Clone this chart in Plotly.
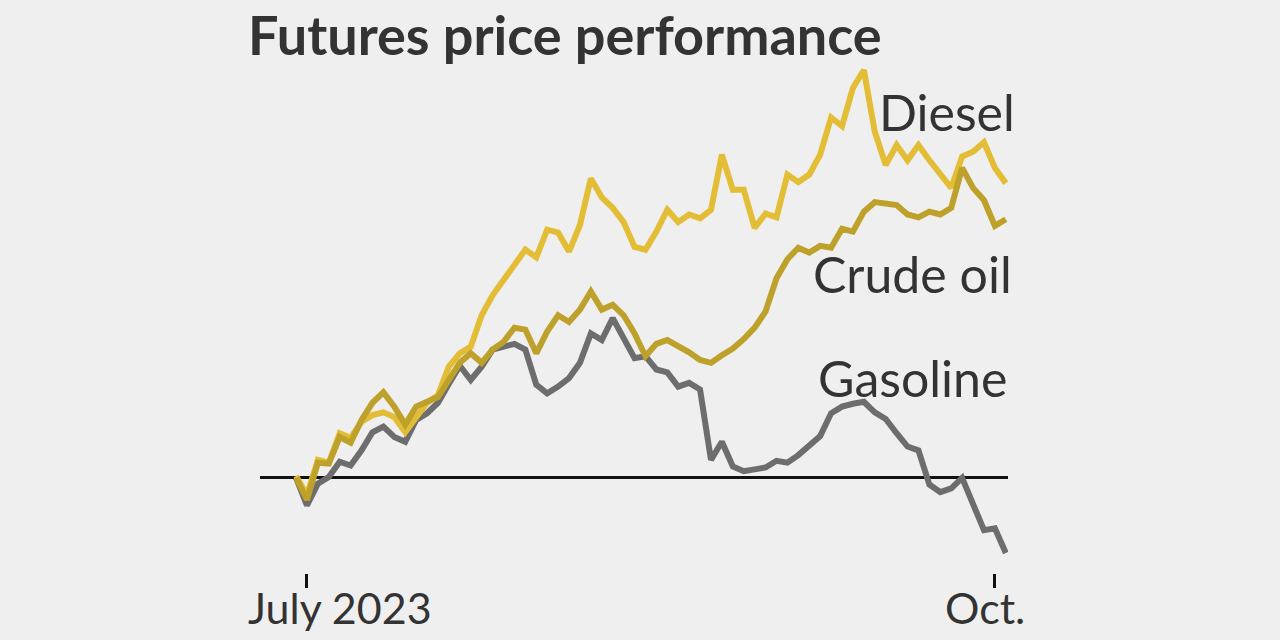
import pandas as pd
import plotly.graph_objects as go

# Trading days, Jun 30 2023 – Oct 3 2023
dates = [d.strftime("%Y-%m-%d") for d in pd.bdate_range("2023-06-30", "2023-10-03")
         if d.strftime("%Y-%m-%d") not in ("2023-07-04", "2023-09-04")]

# % change since Jun 30
diesel = [0.2, -1.8, 1.9, 1.6, 4.7, 4.2, 5.9, 6.6, 6.9, 6.4, 4.8, 6.4, 7.9, 8.7, 11.7, 13.1,
          13.8, 17.1, 19.2, 20.8, 22.4, 24.0, 23.2, 26.1, 25.8, 23.8, 26.6, 31.5, 29.5, 28.4,
          26.9, 24.3, 24.0, 25.9, 28.2, 26.9, 27.7, 27.3, 28.2, 34.0, 30.3, 30.3, 26.3, 27.8,
          27.4, 31.9, 31.1, 31.9, 34.0, 37.9, 37.0, 41.0, 42.9, 36.4, 32.9, 35.0, 33.4, 35.0,
          33.4, 31.9, 30.5, 33.8, 34.3, 35.3, 32.6, 31.0]
crude = [0.0, -2.3, 1.6, 1.5, 4.3, 3.7, 6.1, 7.9, 9.0, 7.5, 5.6, 7.5, 8.0, 8.5, 10.3, 12.1,
         13.1, 12.1, 13.5, 14.3, 15.8, 15.6, 13.1, 15.4, 17.1, 16.4, 17.7, 19.6, 17.7, 18.2,
         17.1, 15.2, 12.8, 14.1, 14.5, 13.9, 13.2, 12.4, 12.1, 12.9, 13.6, 14.6, 15.8, 17.5,
         21.0, 23.0, 24.2, 23.7, 24.4, 24.2, 26.2, 25.9, 28.0, 29.0, 28.9, 28.7, 27.7, 27.4,
         28.0, 27.7, 28.4, 32.6, 30.5, 29.2, 26.5, 27.2]
gasoline = [0.0, -2.9, -0.6, 0.1, 1.7, 1.3, 2.9, 4.8, 5.4, 4.3, 3.8, 6.1, 6.8, 7.9, 9.9, 11.8,
            10.3, 11.7, 13.5, 13.8, 14.1, 13.5, 9.8, 8.9, 9.6, 10.5, 12.1, 15.2, 14.5, 16.8,
            14.7, 12.6, 12.8, 11.4, 11.1, 9.6, 10.0, 9.3, 1.9, 3.8, 1.2, 0.7, 0.9, 1.1,
            1.8, 1.6, 2.4, 3.4, 4.4, 6.8, 7.5, 7.8, 8.0, 6.9, 6.2, 4.7, 3.3, 2.9,
            -0.7, -1.5, -1.1, 0.0, -2.8, -5.5, -5.3, -7.9]

tick_dates = [dates[1], dates[64]]
tick_labels = ["July 2023", "Oct."]

BG = "#efefef"
TXT = "#333333"
FONT = "Lato"

# layout geometry (pixels)
L, R, T, B = 260, 1008, 50, 573
W, H = 1280, 640
XR = [-3.30, 65.2]
YR = [-10, 45]


def px_x(px):
    return (px - L) / (R - L)


def px_y(py):
    return (B - py) / (B - T)


fig = go.Figure()
fig.add_trace(go.Scatter(x=dates, y=gasoline, mode="lines", name="Gasoline",
                         line=dict(color="#6d6d6d", width=6)))
fig.add_trace(go.Scatter(x=dates, y=diesel, mode="lines", name="Diesel",
                         line=dict(color="#e2bd35", width=6)))
fig.add_trace(go.Scatter(x=dates, y=crude, mode="lines", name="Crude oil",
                         line=dict(color="#bea12b", width=6)))

annos = [
    dict(text="<b>Futures price performance</b>", x=px_x(246), y=px_y(34), xanchor="left",
         yanchor="middle", height=60, valign="middle",
         font=dict(size=54, color=TXT, family=FONT)),
    dict(text="Diesel", x=px_x(1017), y=px_y(112), xanchor="right", yanchor="middle",
         font=dict(size=50, color=TXT, family=FONT)),
    dict(text="Crude oil", x=px_x(1014), y=px_y(274), xanchor="right", yanchor="middle",
         font=dict(size=50, color=TXT, family=FONT)),
    dict(text="Gasoline", x=px_x(1009), y=px_y(378), xanchor="right", yanchor="middle",
         font=dict(size=50, color=TXT, family=FONT)),
    dict(text=tick_labels[0], x=px_x(246), y=px_y(607), xanchor="left", yanchor="middle",
         font=dict(size=43, color=TXT, family=FONT)),
    dict(text=tick_labels[1], x=px_x(1027), y=px_y(607), xanchor="right", yanchor="middle",
         font=dict(size=43, color=TXT, family=FONT)),
]
for a in annos:
    a.update(xref="paper", yref="paper", showarrow=False)

fig.update_layout(
    width=W, height=H,
    margin=dict(l=L, r=W - R, t=T, b=H - B, pad=0),
    paper_bgcolor=BG, plot_bgcolor=BG,
    showlegend=False,
    annotations=annos,
    xaxis=dict(type="category", range=XR, showgrid=False, zeroline=False, showline=False,
               tickmode="array", tickvals=tick_dates, ticktext=["", ""],
               showticklabels=False, ticks="outside", ticklen=14, tickwidth=3,
               tickcolor="#111111", fixedrange=True),
    yaxis=dict(range=YR, showgrid=False, showticklabels=False, zeroline=True,
               zerolinecolor="#111111", zerolinewidth=3, showline=False, fixedrange=True),
)

fig.write_html(
    "out.html",
    config={"displayModeBar": False, "staticPlot": True},
    post_script="document.body.style.margin='0';document.body.style.overflow='hidden';"
                "document.body.style.background='#efefef';",
)
